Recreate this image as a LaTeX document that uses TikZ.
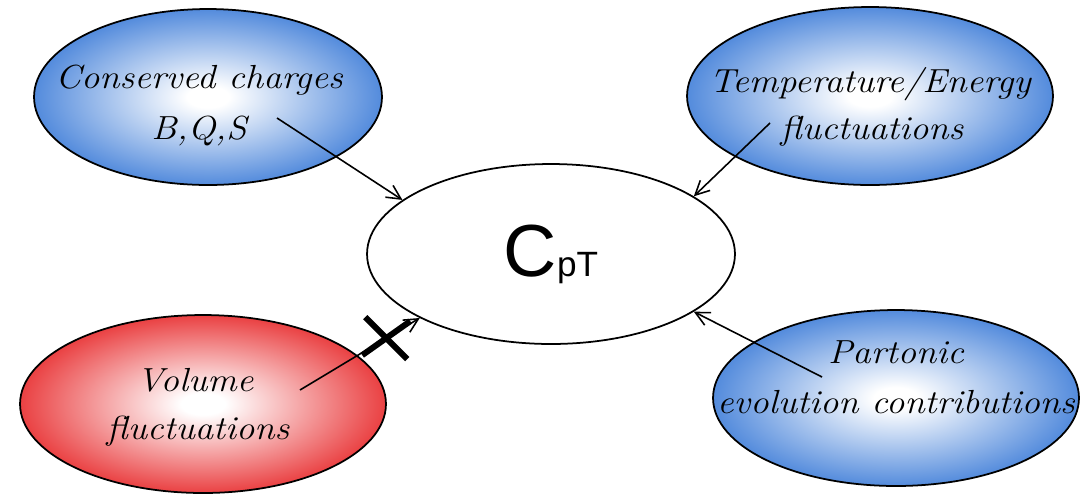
\documentclass[tikz,border=0pt]{standalone}
\usepackage{fontspec}
\newfontfamily\symbolsans{Liberation Sans}
\usetikzlibrary{shapes.geometric,arrows.meta}

\definecolor{bluefill}{RGB}{52,118,214}
\definecolor{redfill}{RGB}{230,30,32}

% white core fading out to the rim colour
\pgfdeclareradialshading{blueglow}{\pgfpointorigin}{color(0bp)=(white); color(3bp)=(white); color(29bp)=(bluefill); color(50bp)=(bluefill)}
\pgfdeclareradialshading{redglow}{\pgfpointorigin}{color(0bp)=(white); color(3bp)=(white); color(29bp)=(redfill); color(50bp)=(redfill)}

\begin{document}
\begin{tikzpicture}[x=0.02cm, y=-0.02cm,
  bubble/.style={ellipse, draw=black, line width=1pt, inner sep=0pt, shade, shading=blueglow},
  hotbubble/.style={bubble, shading=redglow},
  lbltext/.style={font=\fontsize{19}{23}\selectfont\itshape, xscale=1.1, anchor=base, inner sep=0pt},
  link/.style={line width=0.9pt, -{Straight Barb[length=8pt,width=8pt]}},
  crossbar/.style={line width=3.4pt}
]
\useasboundingbox (0,0) rectangle (1081,495);

% source bubbles
\node[bubble, minimum width=6.96cm, minimum height=3.52cm] (cc) at (208,97) {};
\node[bubble, minimum width=7.32cm, minimum height=3.56cm] (te) at (870,96) {};
\node[hotbubble, minimum width=7.32cm, minimum height=3.56cm] (vf) at (203,404) {};
\node[bubble, minimum width=7.32cm, minimum height=3.52cm] (pe) at (896,398) {};

% central observable
\node[ellipse, draw=black, line width=1pt, fill=white, inner sep=0pt,
      minimum width=7.36cm, minimum height=3.6cm, font=\symbolsans] (c) at (551,254)
      {{\fontsize{42}{44}\selectfont C}{\fontsize{20}{22}\selectfont pT}};

% connectors
\coordinate (cc-from) at (277,118);
\coordinate (te-from) at (770,123);
\coordinate (pe-from) at (822,377);
\coordinate (vf-from) at (300,390);
\draw[link] (cc-from) -- (c.160);
\draw[link] (te-from) -- (c.22.5);
\draw[link] (pe-from) -- (c.-22.3);
\draw[link] (vf-from) -- coordinate[pos=0.72] (veto) (c.206.4);

% the crossed-out link
\draw[crossbar] (veto) ++(-24,17) -- ++(48,-34);
\draw[crossbar] (veto) ++(-21,-21) -- ++(42,42);

% bubble texts
\node[lbltext] (cc1) at (199,88) {Conserved charges};
\node[lbltext] (cc2) at (199,139) {B,Q,S};
\node[lbltext] (te1) at (870,92) {Temperature/Energy};
\node[lbltext] (te2) at (872,139) {fluctuations};
\node[lbltext] (vf1) at (195,391) {Volume};
\node[lbltext] (vf2) at (198,439) {fluctuations};
\node[lbltext] (pe1) at (896,363) {Partonic};
\node[lbltext] (pe2) at (896,413) {evolution contributions};
\end{tikzpicture}
\end{document}
